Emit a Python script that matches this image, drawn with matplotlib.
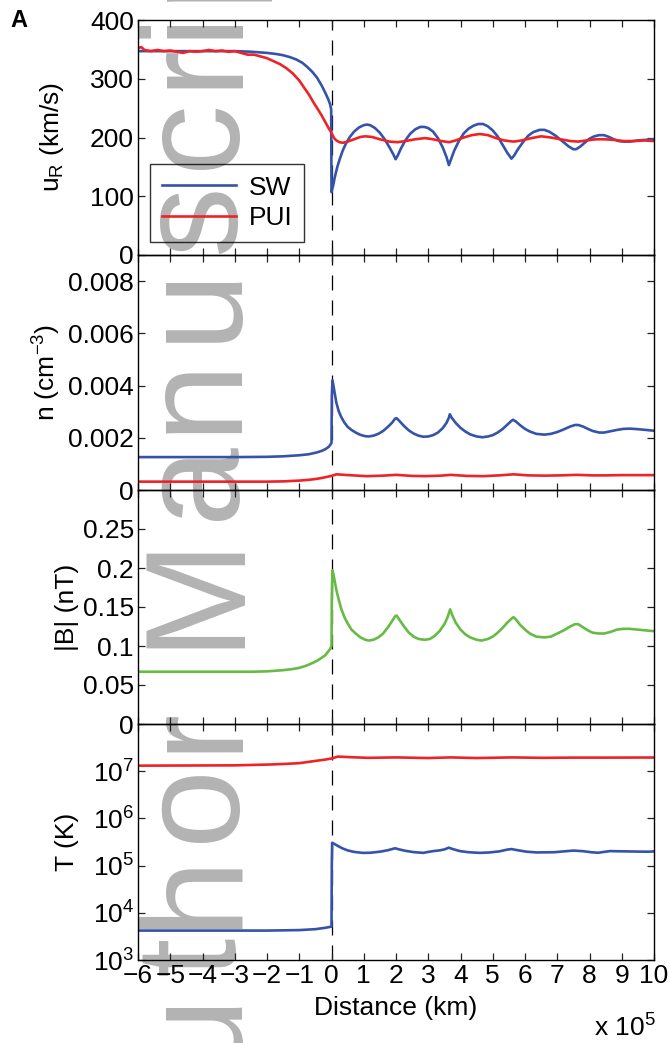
import numpy as np
import matplotlib
matplotlib.use('Agg')
import matplotlib.pyplot as plt

plt.rcParams['font.family'] = ['Liberation Sans', 'DejaVu Sans']
plt.rcParams['mathtext.fontset'] = 'custom'
plt.rcParams['mathtext.rm'] = 'Liberation Sans'
plt.rcParams['mathtext.it'] = 'Liberation Sans:italic'
plt.rcParams['axes.unicode_minus'] = True

# ---- data (distance in units of 1e5 km) ----
# radial velocity, solar wind
u_sw_x = [-6, -4, -3, -2.5, -2.0, -1.7, -1.5, -1.3, -1.1, -0.9, -0.75, -0.6, -0.45, -0.3, -0.2,
          -0.1, -0.04, -0.01, 0.0, 0.05, 0.1, 0.18, 0.26, 0.35, 0.45, 0.57, 0.7, 0.85, 1.0, 1.1,
          1.2, 1.35, 1.5, 1.65, 1.8, 1.92, 1.99, 2.06, 2.15, 2.3, 2.45, 2.6, 2.75, 2.88, 3.0,
          3.15, 3.3, 3.45, 3.57, 3.64, 3.7, 3.8, 3.95, 4.1, 4.25, 4.4, 4.55, 4.7, 4.85, 5.0,
          5.15, 5.3, 5.45, 5.58, 5.66, 5.78, 5.95, 6.1, 6.25, 6.45, 6.6, 6.75, 6.95, 7.15, 7.35,
          7.5, 7.58, 7.7, 7.85, 8.0, 8.15, 8.3, 8.45, 8.6, 8.75, 8.9, 9.05, 9.25, 9.5, 9.75, 10]
u_sw = [347, 347, 347, 346, 344, 342, 340, 337, 333, 327, 320, 312, 302, 288, 277,
        265, 256, 248, 107, 118, 132, 150, 164, 178, 190, 201, 210, 217, 221, 222,
        221, 216, 208, 197, 183, 171, 163, 170, 181, 196, 207, 214, 218, 218, 216,
        210, 199, 183, 166, 153, 162, 177, 194, 207, 215, 220, 223, 223, 219, 212,
        202, 188, 174, 164, 169, 180, 193, 203, 209, 213, 213, 210, 203, 194, 185,
        180, 180, 184, 191, 198, 202, 204, 204, 201, 197, 194, 193, 193, 195, 196, 197]

# radial velocity, pickup ions
u_pui_x = [-6, -5.9, -5.8, -5.6, -5.4, -5.2, -5.0, -4.8, -4.6, -4.4, -4.2, -4.0, -3.8, -3.6,
           -3.4, -3.2, -3.0, -2.8, -2.6, -2.4, -2.2, -2.0, -1.8, -1.6, -1.4, -1.2, -1.0, -0.85,
           -0.7, -0.55, -0.4, -0.3, -0.2, -0.1, 0.0, 0.08, 0.15, 0.25, 0.35, 0.5, 0.7, 0.9,
           1.05, 1.25, 1.5, 1.8, 2.05, 2.3, 2.6, 2.9, 3.15, 3.4, 3.65, 3.85, 4.1, 4.35, 4.6,
           4.85, 5.1, 5.35, 5.65, 5.9, 6.2, 6.5, 6.8, 7.1, 7.4, 7.65, 7.9, 8.2, 8.45, 8.75,
           9.05, 9.4, 9.7, 10]
u_pui = [352, 354, 349, 347, 349, 347, 348, 346, 344, 347, 346, 347, 349, 347,
         348, 346, 347, 344, 341, 341, 338, 335, 330, 325, 318, 309, 297, 285,
         273, 259, 246, 237, 227, 217, 208, 199, 195, 192, 191, 193, 197, 201,
         202, 201, 197, 193, 192, 194, 197, 199, 197, 194, 192, 195, 200, 204, 206,
         204, 199, 195, 193, 195, 199, 202, 200, 197, 194, 193, 195, 197, 197, 196,
         194, 194, 195, 194]

# density, solar wind
n_sw_x = [-6, -3, -2, -1.5, -1.0, -0.7, -0.45, -0.3, -0.18, -0.08, 0.0, 0.01, 0.03, 0.06, 0.1,
          0.15, 0.22, 0.3, 0.4, 0.5, 0.62, 0.75, 0.9, 1.05, 1.15, 1.3, 1.45, 1.6, 1.75, 1.88,
          1.97, 2.02, 2.1, 2.25, 2.4, 2.55, 2.7, 2.85, 3.0, 3.15, 3.3, 3.45, 3.57, 3.64, 3.67,
          3.72, 3.85, 4.0, 4.15, 4.3, 4.5, 4.68, 4.85, 5.0, 5.15, 5.3, 5.45, 5.58, 5.63, 5.72,
          5.85, 6.0, 6.15, 6.35, 6.6, 6.8, 7.0, 7.2, 7.4, 7.55, 7.65, 7.8, 7.95, 8.1, 8.3,
          8.45, 8.65, 8.85, 9.05, 9.25, 9.5, 9.75, 10]
n_sw = [0.00126, 0.00126, 0.00127, 0.00129, 0.00133, 0.00137, 0.00144, 0.0015, 0.00157,
        0.00166, 0.0018, 0.0036, 0.0042, 0.004, 0.0037, 0.00335, 0.00303, 0.0028, 0.00258,
        0.00242, 0.0023, 0.0022, 0.00211, 0.00206, 0.00205, 0.00208, 0.00215, 0.00226,
        0.00242, 0.00258, 0.00273, 0.00275, 0.00265, 0.00245, 0.00228, 0.00216, 0.00208,
        0.00204, 0.00205, 0.0021, 0.0022, 0.00237, 0.00258, 0.00277, 0.0029, 0.00278,
        0.00257, 0.00238, 0.00224, 0.00213, 0.00205, 0.00202, 0.00205, 0.0021, 0.0022,
        0.00233, 0.0025, 0.00265, 0.00269, 0.00262, 0.00248, 0.00234, 0.00224, 0.00215,
        0.00212, 0.00215, 0.00222, 0.00232, 0.00243, 0.00249, 0.00249, 0.00243, 0.00234,
        0.00226, 0.0022, 0.0022, 0.00225, 0.0023, 0.00234, 0.00235, 0.00233, 0.0023, 0.00227]

# density, pickup ions
n_pui_x = [-6, -2, -1.5, -1.0, -0.7, -0.5, -0.3, -0.15, 0.0, 0.15, 0.4, 0.8, 1.1, 1.6, 2.0,
           2.5, 2.9, 3.4, 3.7, 4.2, 4.7, 5.2, 5.65, 6.1, 6.6, 7.1, 7.6, 8.1, 8.5, 9.0, 10]
n_pui = [0.00032, 0.00032, 0.00033, 0.00036, 0.00039, 0.00042, 0.00046, 0.0005, 0.00054,
         0.0006, 0.00058, 0.00055, 0.00053, 0.00055, 0.00058, 0.00054, 0.00053, 0.00055,
         0.00058, 0.00054, 0.00053, 0.00056, 0.0006, 0.00056, 0.00055, 0.00056, 0.00058,
         0.00056, 0.00056, 0.00057, 0.00057]

# magnetic field magnitude
b_x = [-6, -2.5, -2, -1.5, -1.2, -1.0, -0.8, -0.6, -0.45, -0.3, -0.2, -0.1, -0.03, 0.0, 0.01,
       0.03, 0.06, 0.1, 0.15, 0.22, 0.3, 0.4, 0.5, 0.62, 0.75, 0.9, 1.05, 1.15, 1.3, 1.45,
       1.6, 1.75, 1.88, 1.97, 2.02, 2.1, 2.25, 2.4, 2.55, 2.7, 2.9, 3.05, 3.2, 3.35, 3.5,
       3.6, 3.68, 3.74, 3.85, 4.0, 4.15, 4.3, 4.5, 4.65, 4.85, 5.0, 5.15, 5.3, 5.45, 5.58,
       5.64, 5.72, 5.85, 6.0, 6.15, 6.35, 6.6, 6.8, 7.0, 7.2, 7.4, 7.55, 7.65, 7.8, 7.95,
       8.1, 8.3, 8.45, 8.65, 8.85, 9.05, 9.25, 9.5, 9.75, 10]
b_mag = [0.067, 0.067, 0.0675, 0.069, 0.0705, 0.072, 0.0745, 0.078, 0.081, 0.085, 0.088,
         0.093, 0.097, 0.1, 0.165, 0.197, 0.192, 0.183, 0.172, 0.16, 0.148, 0.137, 0.129,
         0.121, 0.116, 0.111, 0.108, 0.107, 0.108, 0.111, 0.116, 0.124, 0.132, 0.138, 0.139,
         0.134, 0.125, 0.117, 0.112, 0.109, 0.108, 0.109, 0.113, 0.119, 0.128, 0.137, 0.147,
         0.14, 0.13, 0.121, 0.115, 0.111, 0.108, 0.107, 0.109, 0.112, 0.117, 0.123, 0.13,
         0.135, 0.137, 0.134, 0.127, 0.121, 0.116, 0.112, 0.111, 0.112, 0.116, 0.12, 0.125,
         0.128, 0.128, 0.124, 0.12, 0.117, 0.116, 0.116, 0.118, 0.121, 0.122, 0.122, 0.121,
         0.12, 0.119]

# temperature, solar wind
t_sw_x = [-6, -2, -1.0, -0.5, -0.2, 0.0, 0.01, 0.02, 0.1, 0.2, 0.35, 0.5, 0.7, 0.97, 1.2,
          1.5, 1.75, 1.97, 2.1, 2.3, 2.55, 2.85, 3.0, 3.16, 3.35, 3.5, 3.64, 3.75, 3.98, 4.25,
          4.6, 4.9, 5.2, 5.45, 5.58, 5.8, 6.05, 6.36, 6.9, 7.2, 7.5, 7.8, 8.05, 8.27, 8.45,
          8.64, 8.9, 9.16, 9.5, 9.83, 10]
t_sw = [4.2e3, 4.2e3, 4.3e3, 4.5e3, 4.8e3, 5.1e3, 1.2e5, 3.05e5, 2.85e5, 2.6e5, 2.3e5, 2.1e5,
        1.95e5, 1.86e5, 1.87e5, 1.97e5, 2.12e5, 2.33e5, 2.2e5, 2.05e5, 1.93e5, 1.86e5,
        1.95e5, 2.03e5, 2.1e5, 2.2e5, 2.4e5, 2.25e5, 2.03e5, 1.92e5, 1.86e5, 1.9e5, 2.0e5,
        2.18e5, 2.24e5, 2.1e5, 1.97e5, 1.9e5, 1.92e5, 2.0e5, 2.08e5, 2.02e5, 1.92e5, 1.87e5,
        1.95e5, 2.03e5, 2.01e5, 2.0e5, 1.98e5, 1.97e5, 2.0e5]

# temperature, pickup ions
t_pui_x = [-6, -3, -2, -1.5, -1, -0.5, -0.2, 0.0, 0.2, 0.6, 1.14, 2.0, 3.0, 3.7, 4.5, 5.6,
           6.5, 7.5, 8.5, 10]
t_pui = [1.31e7, 1.33e7, 1.38e7, 1.42e7, 1.48e7, 1.65e7, 1.76e7, 1.86e7, 2.04e7, 1.98e7,
         1.92e7, 1.96e7, 1.9e7, 1.96e7, 1.9e7, 1.96e7, 1.92e7, 1.94e7, 1.94e7, 1.95e7]

x_ticks = list(range(-6, 11))

C_SW = '#3553a8'
C_PUI = '#ee2328'
C_B = '#66bb44'
LW = 1.9
FS = 19

fig = plt.figure(figsize=(6.69, 10.43), dpi=100)

# watermark, drawn behind the axes
wm_letters = ['A', 'u', 't', 'h', 'o', 'r', 'M', 'a', 'n', 'u', 's', 'c', 'r', 'i', 'p', 't']
wm_centers = [1121, 1028, 955, 890, 803, 728, 589, 481, 394, 303, 219, 134, 64, 22, -38, -90]
for ch, yc in zip(wm_letters, wm_centers):
    fig.text(234 / 669, 1 - yc / 1043, ch, rotation=90, rotation_mode='anchor',
             ha='center', va='baseline', fontsize=102, color='#b3b3b3', zorder=-5)

left, right = 138 / 669, 654 / 669
edges = [20, 255, 490, 724, 960]
axes = []
for i in range(4):
    top = 1 - edges[i] / 1043
    bot = 1 - edges[i + 1] / 1043
    ax = fig.add_axes([left, bot, right - left, top - bot])
    ax.patch.set_facecolor('none')
    axes.append(ax)

ax1, ax2, ax3, ax4 = axes

ax1.plot(u_sw_x, u_sw, color=C_SW, lw=LW, label='SW')
ax1.plot(u_pui_x, u_pui, color=C_PUI, lw=LW, label='PUI')
ax1.set_ylim(0, 400)
ax1.set_yticks([0, 100, 200, 300, 400])
ax1.set_ylabel(r'u$_\mathrm{R}$ (km/s)')
leg = ax1.legend(loc='lower left', bbox_to_anchor=(0.023, 0.055), borderaxespad=0,
                 fancybox=False, edgecolor='k', facecolor='none', handlelength=2.8,
                 handletextpad=0.5, labelspacing=0.25, borderpad=0.45, fontsize=FS)
leg.get_frame().set_linewidth(1.0)

ax2.plot(n_sw_x, n_sw, color=C_SW, lw=LW)
ax2.plot(n_pui_x, n_pui, color=C_PUI, lw=LW)
ax2.set_ylim(0, 0.009)
ax2.set_yticks([0, 0.002, 0.004, 0.006, 0.008])
ax2.set_yticklabels(['0', '0.002', '0.004', '0.006', '0.008'])
ax2.set_ylabel(r'n (cm$^{-3}$)')

ax3.plot(b_x, b_mag, color=C_B, lw=LW)
ax3.set_ylim(0, 0.3)
ax3.set_yticks([0, 0.05, 0.1, 0.15, 0.2, 0.25])
ax3.set_yticklabels(['0', '0.05', '0.1', '0.15', '0.2', '0.25'])
ax3.set_ylabel('|B| (nT)')

ax4.semilogy(t_sw_x, t_sw, color=C_SW, lw=LW)
ax4.semilogy(t_pui_x, t_pui, color=C_PUI, lw=LW)
ax4.set_ylim(1e3, 1e8)
ax4.set_yticks([1e3, 1e4, 1e5, 1e6, 1e7])
ax4.set_yticklabels([r'10$^{%d}$' % k for k in range(3, 8)])
ax4.set_ylabel('T (K)')
ax4.set_xlabel('Distance (km)', fontsize=FS, labelpad=6)

label_x = [-0.14, -0.145, -0.115, -0.115]
for ax, lx in zip(axes, label_x):
    ax.set_xlim(-6, 10)
    ax.set_xticks(x_ticks)
    ax.axvline(0, color='k', lw=0.9, ls=(0, (12, 8)), zorder=1)
    ax.tick_params(which='both', direction='in', top=True, right=True, labelsize=FS,
                   width=0.9, color='#222222', pad=3)
    ax.tick_params(which='major', length=5)
    ax.tick_params(which='minor', length=2.5)
    ax.yaxis.label.set_size(FS)
    ax.yaxis.set_label_coords(lx, 0.5)
    for s in ax.spines.values():
        s.set_linewidth(1.0)
    if ax is not ax4:
        ax.tick_params(labelbottom=False)
ax4.set_xticklabels([str(t).replace('-', '\u2212') for t in x_ticks])

fig.text(656 / 669, 1 - 1037 / 1043, r'x 10$^5$', ha='right', va='baseline', fontsize=FS)
fig.text(10 / 669, 1 - 27 / 1043, 'A', ha='left', va='baseline', fontsize=17,
         fontweight='bold')

fig.savefig('out.png', dpi=100)
